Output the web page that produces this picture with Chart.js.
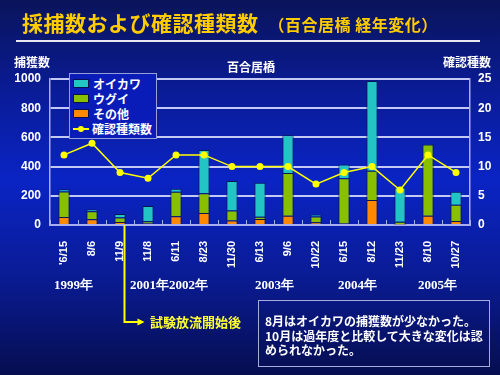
<!DOCTYPE html>
<html>
<head>
<meta charset="utf-8">
<script src="https://cdn.jsdelivr.net/npm/chart.js@4"></script>
<style>
  html, body { margin: 0; padding: 0; }
  body {
    width: 500px; height: 375px; overflow: hidden; position: relative;
    background: linear-gradient(to bottom, #0a145a 0%, #0a1c98 25%, #0a24c4 48%, #0a1c98 72%, #060e50 100%);
    font-family: "Noto Sans CJK JP", sans-serif;
  }
  #c { position: absolute; left: 0; top: 0; }
  .t { position: absolute; white-space: nowrap; font-weight: bold; }
  #title { left: 22px; top: 7px; color: #ffcc00; font-size: 21px; letter-spacing: 0.5px; }
  #title small { font-size: 16px; margin-left: 10px; }
  #rule { position: absolute; left: 16px; top: 40px; width: 464px; height: 2px; background: #e8e8f0; }
  .ax { color: #fff; font-size: 12px; top: 53px; }
  .yr { color: #fff; font-family: "Liberation Serif", serif; font-size: 13px; top: 276px; }
  #note { left: 258px; top: 300px; width: 218px; height: 50px; border: 1px solid #a8acd8; color: #fff;
          font-size: 12px; line-height: 14.5px; padding: 13px 6px 2px 6px; white-space: normal; }
  #start { left: 150px; top: 312px; color: #ffff33; font-size: 13px; }
  #legend { position: absolute; left: 69px; top: 73px; width: 80px; border: 1px solid #9a9ed8;
            background: #0a1cb8; padding: 2px 3px; }
  .li { color: #fff; font-size: 12px; font-weight: bold; height: 15px; line-height: 15px; white-space: nowrap; }
  .sw { display: inline-block; width: 14px; height: 7px; border: 1px solid #0a1050; margin-right: 4px; vertical-align: 1px; }
  .ln { display: inline-block; position: relative; width: 16px; height: 2px; background: #ffff00; margin-right: 3px; vertical-align: 4px; }
  .ln i { position: absolute; left: 5px; top: -2px; width: 6px; height: 6px; border-radius: 3px; background: #ffff00; }
</style>
</head>
<body>
<canvas id="c" width="500" height="375"></canvas>
<div class="t" id="title">採捕数および確認種類数<small>（百合居橋 経年変化）</small></div>
<div id="rule"></div>
<div class="t ax" style="left:14px">捕獲数</div>
<div class="t ax" style="left:227px;top:58px">百合居橋</div>
<div class="t ax" style="left:443px">確認種数</div>
<div id="legend"></div>
<div class="t yr" style="left:54px">1999年</div>
<div class="t yr" style="left:130px">2001年2002年</div>
<div class="t yr" style="left:255px">2003年</div>
<div class="t yr" style="left:338px">2004年</div>
<div class="t yr" style="left:418px">2005年</div>
<div class="t" id="start">試験放流開始後</div>
<div class="t" id="note">8月はオイカワの捕獲数が少なかった。10月は過年度と比較して大きな変化は認められなかった。</div>
<script>
const labels = ["'6/15", "8/6", "11/9", "11/8", "6/11", "8/23", "11/30", "6/13", "9/6", "10/22", "6/15", "8/12", "11/23", "8/10", "10/27"];
const sonota = [55, 40, 21, 10, 60, 83, 30, 41, 64, 18, 11, 172, 4, 64, 28];
const ugui = [175, 55, 30, 15, 168, 135, 69, 16, 292, 40, 310, 200, 18, 487, 110];
const oikawa = [15, 12, 25, 105, 20, 295, 202, 233, 259, 13, 94, 615, 234, 3, 90];
const species = [12, 14, 9, 8, 12, 12, 10, 10, 10, 7, 9, 10, 6, 12, 9];
const releaseAfter = 2; // 試験放流開始: 11/9 の直後

const white = '#ffffff';
const tickFont = { family: 'Liberation Sans, Arial, sans-serif', size: 12, weight: 'bold' };

// legend (html)
const legendItems = [
  { label: 'オイカワ', color: '#22c4c4' },
  { label: 'ウグイ', color: '#88c000' },
  { label: 'その他', color: '#ff8a00' }
];
const lg = document.getElementById('legend');
legendItems.forEach(it => {
  lg.innerHTML += `<div class="li"><span class="sw" style="background:${it.color}"></span>${it.label}</div>`;
});
lg.innerHTML += `<div class="li"><span class="ln"><i></i></span>確認種類数</div>`;

const extras = {
  id: 'extras',
  afterDraw(chart) {
    const { ctx, chartArea: a } = chart;
    const x = chart.scales.x;
    const step = x.getPixelForValue(1) - x.getPixelForValue(0);
    ctx.save();
    // small ticks at category boundaries
    ctx.strokeStyle = '#a8acf0';
    ctx.lineWidth = 1;
    for (let i = 0; i <= labels.length; i++) {
      const px = Math.round(x.getPixelForValue(i) - step / 2) + 0.5;
      ctx.beginPath(); ctx.moveTo(px, a.bottom); ctx.lineTo(px, a.bottom - 5); ctx.stroke();
    }
    // arrow for release start
    const lx = Math.round(x.getPixelForValue(releaseAfter) + step * 0.15) + 0.5;
    const ly = 322;
    ctx.strokeStyle = '#ffff00';
    ctx.fillStyle = '#ffff00';
    ctx.lineWidth = 2;
    ctx.beginPath(); ctx.moveTo(lx, a.bottom); ctx.lineTo(lx, ly); ctx.lineTo(lx + 14, ly); ctx.stroke();
    ctx.beginPath(); ctx.moveTo(lx + 20, ly); ctx.lineTo(lx + 13, ly - 3.5); ctx.lineTo(lx + 13, ly + 3.5); ctx.closePath(); ctx.fill();
    ctx.restore();
  }
};

const barStyle = { borderColor: '#0a1450', borderWidth: 1, barPercentage: 0.4, categoryPercentage: 1, yAxisID: 'y', order: 1 };

new Chart(document.getElementById('c'), {
  data: {
    labels,
    datasets: [
      { type: 'line', label: '確認種類数', data: species, yAxisID: 'y2', order: 0,
        borderColor: '#ffff00', borderWidth: 1.5, pointRadius: 3.5, pointBackgroundColor: '#ffff00',
        pointBorderWidth: 0, tension: 0 },
      { type: 'bar', label: 'その他', data: sonota, backgroundColor: '#ff8a00', ...barStyle },
      { type: 'bar', label: 'ウグイ', data: ugui, backgroundColor: '#88c000', ...barStyle },
      { type: 'bar', label: 'オイカワ', data: oikawa, backgroundColor: '#22c4c4', ...barStyle }
    ]
  },
  options: {
    responsive: false,
    animation: false,
    layout: { padding: { top: 79, left: 0, right: 0, bottom: 0 } },
    plugins: { legend: { display: false }, tooltip: { enabled: false } },
    scales: {
      x: {
        stacked: true,
        grid: { display: false },
        border: { color: '#a8acf0', width: 2 },
        ticks: { color: white, font: { family: 'Liberation Sans, Arial, sans-serif', size: 11, weight: 'bold' },
                 minRotation: 90, maxRotation: 90, padding: 8, autoSkip: false },
        afterFit(s) { s.height = 150; }
      },
      y: {
        stacked: true,
        position: 'left',
        min: 0, max: 1000,
        ticks: { stepSize: 200, color: white, font: tickFont, padding: 9, callback: v => String(v) },
        grid: { display: true, color: '#c4c8f4', lineWidth: 2, drawTicks: false },
        border: { color: '#a8acf0', width: 1.5 },
        afterFit(s) { s.width = 50; }
      },
      y2: {
        position: 'right',
        min: 0, max: 25,
        ticks: { stepSize: 5, color: white, font: tickFont, padding: 8 },
        grid: { drawOnChartArea: false, drawTicks: false },
        border: { color: '#a8acf0', width: 1.5 },
        afterFit(s) { s.width = 30; }
      }
    }
  },
  plugins: [extras]
});
</script>
</body>
</html>
